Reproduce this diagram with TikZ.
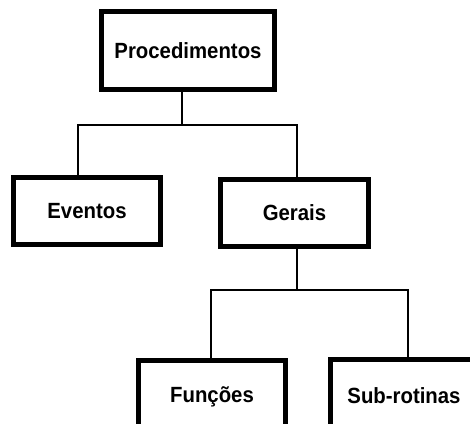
\documentclass[tikz,border=0pt]{standalone}
\usepackage{fontspec}
\setmainfont{Liberation Sans}
\newfontfamily\boxfont{Liberation Sans}[FakeStretch=0.925]
\begin{document}
\begin{tikzpicture}[x=1pt,y=-1pt,
  box/.style={draw=black, line width=5pt, fill=white, inner sep=0pt,
    minimum width=147pt, minimum height=67pt,
    font=\boxfont\fontsize{22}{26}\selectfont\bfseries},
  link/.style={draw=black, line width=1.3pt}]
  \clip (0,0) rectangle (470,423);
  \fill[white] (0,0) rectangle (470,423);

  % hierarchy boxes
  \node[box, minimum width=173pt, minimum height=78pt] (proc) at (188,50.5) {Procedimentos};
  \node[box] (ev)  at (87,211)    {Eventos};
  \node[box, minimum width=148pt] (ger) at (294.5,213) {Gerais};
  \node[box, minimum height=73pt] (fun) at (212,397)   {Funções};
  \node[box, minimum height=73pt] (sub) at (404,396)   {Sub-rotinas};

  % first level branch
  \draw[link] ([xshift=-6pt]proc.south) -- ++(0,33) coordinate (bus1);
  \draw[link] ([xshift=-9pt]ev.north) |- ([xshift=2.5pt]ger.north |- bus1) -- ([xshift=2.5pt]ger.north);

  % second level branch
  \draw[link] ([xshift=2.5pt]ger.south) -- ++(0,41) coordinate (bus2);
  \draw[link] ([xshift=-1pt]fun.north) |- ([xshift=4pt]sub.north |- bus2) -- ([xshift=4pt]sub.north);
\end{tikzpicture}
\end{document}
